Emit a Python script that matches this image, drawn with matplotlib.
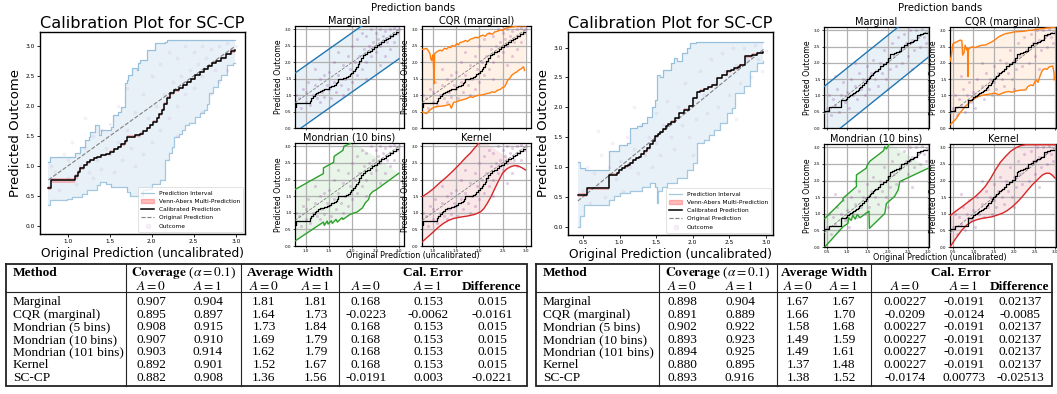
import numpy as np
import matplotlib
matplotlib.use("Agg")
import matplotlib.pyplot as plt
from matplotlib.lines import Line2D
from matplotlib.patches import Patch

plt.rcParams['mathtext.fontset'] = 'stix'

# ----------------------------------------------------------------- DATA (left)
L_calib_x = [0.77,0.80,1.09,1.12,1.15,1.19,1.23,1.27,1.31,1.35,1.40,1.45,1.50,1.55,1.60,1.64,1.68,1.70,1.80,1.86,1.90,1.94,1.98,2.02,2.06,2.09,2.12,2.15,2.18,2.22,2.27,2.32,2.37,2.42,2.47,2.52,2.57,2.62,2.67,2.72,2.77,2.82,2.88,2.94,2.99]
L_calib_y = [0.64,0.76,0.83,0.90,0.96,1.02,1.06,1.10,1.13,1.15,1.18,1.20,1.24,1.28,1.32,1.36,1.41,1.49,1.51,1.54,1.58,1.63,1.68,1.74,1.80,1.86,1.94,2.04,2.14,2.21,2.26,2.30,2.35,2.40,2.45,2.51,2.56,2.61,2.66,2.71,2.75,2.80,2.86,2.91,2.93]
L_va_half = [0.03,0.04,0.04,0.03,0.02,0.02,0.02,0.02,0.02,0.02,0.02,0.02,0.02,0.02,0.02,0.02,0.02,0.02,0.02,0.02,0.02,0.02,0.02,0.02,0.02,0.02,0.02,0.02,0.02,0.02,0.02,0.02,0.02,0.02,0.02,0.02,0.02,0.02,0.02,0.02,0.02,0.02,0.02,0.03,0.03]
L_pi_up_x = [0.77,0.79,1.09,1.15,1.21,1.25,1.27,1.33,1.37,1.40,1.52,1.54,1.60,1.64,1.68,1.70,1.72,1.76,1.82,1.84,1.86,1.94,2.04,2.16,2.18,2.99]
L_pi_up_y = [1.07,1.15,1.21,1.32,1.43,1.49,1.57,1.68,1.51,1.60,1.65,1.85,1.90,1.99,2.38,2.43,2.52,2.63,2.60,2.71,2.77,2.93,3.04,3.07,3.10,3.10]
L_pi_lo_x = [0.77,0.79,0.99,1.05,1.17,1.23,1.35,1.39,1.45,1.52,1.70,1.74,1.90,1.94,2.00,2.10,2.16,2.20,2.24,2.26,2.32,2.36,2.40,2.44,2.52,2.58,2.62,2.66,2.68,2.73,2.79,2.83,2.89,2.97,2.99]
L_pi_lo_y = [0.36,0.43,0.46,0.48,0.54,0.60,0.68,0.74,0.71,0.65,0.57,0.51,0.60,0.62,0.71,0.76,1.10,1.21,1.32,1.49,1.54,1.60,1.68,1.71,1.82,1.88,1.93,2.04,2.21,2.32,2.43,2.52,2.68,2.71,2.71]
L_obs_x = [0.85,0.90,0.95,1.00,1.05,1.10,1.15,1.20,1.25,1.30,1.30,1.35,1.40,1.40,1.45,1.50,1.50,1.55,1.60,1.60,1.65,1.70,1.70,1.75,1.80,1.80,1.85,1.90,1.90,1.95,2.00,2.00,2.05,2.10,2.10,2.15,2.20,2.20,2.25,2.30,2.30,2.35,2.40,2.40,2.45,2.50,2.50,2.55,2.60,2.60,2.65,2.70,2.70,2.75,2.80,2.80,2.85,2.90,2.90,2.95,3.00,2.30,1.20,2.60,0.80,1.00]
L_obs_y = [0.90,0.60,1.20,0.80,1.40,0.70,1.00,1.30,0.90,1.50,0.80,1.10,1.60,0.95,1.30,1.20,1.70,0.90,1.40,2.00,1.10,1.60,2.30,1.30,1.90,1.00,1.50,2.20,1.20,1.80,2.50,1.40,2.00,1.60,2.70,2.20,1.80,2.90,2.40,2.00,2.80,2.50,2.20,3.00,2.60,2.90,2.30,2.70,3.00,2.50,2.80,2.95,2.20,2.60,3.00,2.40,2.80,3.05,2.60,2.90,3.00,1.50,1.80,1.90,1.00,1.10]
L_marg_x = [0.77, 3.00]
L_marg_up = [1.67, 3.90]
L_marg_lo = [-0.13, 2.10]
L_cqr_up_x = [0.77,0.82,0.87,0.90,0.94,0.96,0.98,1.00,1.01,1.03,1.04,1.05,1.10,1.16,1.20,1.25,1.30,1.35,1.38,1.42,1.47,1.52,1.55,1.59,1.65,1.70,1.75,1.81,1.86,1.92,1.97,2.03,2.08,2.13,2.17,2.22,2.28,2.33,2.39,2.45,2.50,2.56,2.61,2.70,2.78,2.85,2.92,3.00]
L_cqr_up_y = [2.39,2.40,2.42,2.36,2.27,2.10,2.05,2.22,2.20,1.35,2.25,2.27,2.33,2.37,2.34,2.42,2.40,2.47,2.44,2.51,2.48,2.57,2.53,2.60,2.62,2.66,2.63,2.70,2.72,2.76,2.74,2.80,2.82,2.79,2.86,2.88,2.85,2.92,2.94,2.98,2.96,3.03,3.05,3.07,3.09,3.10,3.10,3.10]
L_cqr_lo_x = [0.77,0.82,0.87,0.92,0.98,1.02,1.05,1.10,1.16,1.22,1.30,1.36,1.40,1.45,1.50,1.55,1.59,1.65,1.70,1.75,1.81,1.86,1.92,1.97,2.03,2.10,2.17,2.22,2.28,2.33,2.39,2.45,2.50,2.54,2.58,2.61,2.66,2.70,2.75,2.80,2.85,2.90,2.95,2.97]
L_cqr_lo_y = [0.49,0.46,0.44,0.52,0.59,0.62,0.64,0.65,0.66,0.67,0.69,0.72,0.60,0.78,0.79,0.82,0.84,0.86,0.88,0.91,0.95,0.93,0.97,0.99,1.00,1.02,1.05,1.06,1.10,1.08,1.15,1.17,1.23,1.25,1.35,1.45,1.52,1.61,1.66,1.70,1.76,1.80,1.86,1.75]
L_mon_up_x = [0.77,1.38,1.38,1.60,1.61,1.80,1.82,1.95,2.00]
L_mon_up_y = [1.70,2.18,2.35,2.52,2.70,2.88,3.00,3.08,3.15]
L_mon_lo_x = [0.77,1.38,1.40,1.46,1.48,1.55,1.57,1.65,1.68,1.78,1.80,1.95,2.05,2.10,2.22,2.28,2.35,2.38,2.45,2.50,3.00]
L_mon_lo_y = [0.15,0.72,0.62,0.75,0.66,0.76,0.68,0.80,0.72,0.85,0.80,0.95,1.00,1.02,1.15,1.30,1.40,1.55,1.65,1.68,2.19]
L_ker_up_x = [0.77,0.90,1.01,1.15,1.30,1.45,1.59,1.70,1.81,1.90,1.99,2.05]
L_ker_up_y = [1.48,1.60,1.72,1.90,2.08,2.28,2.48,2.65,2.80,2.95,3.10,3.20]
L_ker_lo_x = [0.77,0.90,1.01,1.12,1.23,1.34,1.45,1.60,1.74,1.90,2.03,2.10,2.17,2.25,2.32,2.41,2.50,2.59,2.68,2.76,2.83,2.91,2.99]
L_ker_lo_y = [0.12,0.28,0.42,0.56,0.68,0.77,0.83,0.87,0.90,0.95,1.03,1.13,1.28,1.48,1.69,1.95,2.19,2.32,2.39,2.42,2.41,2.36,2.29]

# ---------------------------------------------------------------- DATA (right)
R_calib_x = [0.43,0.55,0.86,0.97,0.99,1.04,1.08,1.12,1.15,1.19,1.23,1.26,1.30,1.33,1.37,1.42,1.46,1.49,1.53,1.56,1.60,1.63,1.67,1.70,1.76,1.81,1.88,1.95,2.01,2.06,2.10,2.15,2.21,2.27,2.33,2.40,2.47,2.52,2.56,2.62,2.65,2.72,2.81,2.88,2.97]
R_calib_y = [0.53,0.64,0.87,0.90,0.95,0.98,1.01,1.04,1.07,1.12,1.15,1.17,1.22,1.26,1.31,1.38,1.44,1.51,1.55,1.59,1.64,1.68,1.72,1.76,1.82,1.90,1.96,2.02,2.15,2.26,2.28,2.31,2.34,2.37,2.49,2.54,2.60,2.62,2.65,2.68,2.71,2.85,2.88,2.91,2.92]
R_va_half = [0.03,0.02,0.03,0.02,0.02,0.02,0.02,0.02,0.02,0.02,0.02,0.02,0.02,0.02,0.02,0.02,0.02,0.02,0.02,0.02,0.02,0.02,0.02,0.02,0.02,0.02,0.02,0.02,0.02,0.02,0.02,0.02,0.02,0.02,0.02,0.02,0.02,0.02,0.02,0.02,0.02,0.02,0.02,0.02,0.02]
R_pi_up_x = [0.43,0.46,0.53,0.86,0.99,1.10,1.14,1.24,1.31,1.38,1.44,1.49,1.51,1.56,1.60,1.70,1.74,1.78,1.85,1.92,1.97,2.04,2.97]
R_pi_up_y = [1.09,0.98,0.95,1.26,1.37,1.40,1.65,1.68,1.73,1.84,2.01,2.12,2.54,2.51,2.63,2.74,2.82,2.77,2.91,2.99,3.07,3.10,3.10]
R_pi_lo_x = [0.43,0.46,0.51,0.85,0.92,1.01,1.15,1.31,1.42,1.48,1.51,1.53,1.58,1.65,1.79,1.92,2.01,2.06,2.15,2.22,2.29,2.38,2.47,2.54,2.58,2.70,2.79,2.88,2.97]
R_pi_lo_y = [0.00,0.17,0.36,0.45,0.52,0.56,0.59,0.67,0.73,0.67,0.40,0.59,0.67,0.73,0.81,0.95,1.06,1.40,1.45,1.54,1.62,1.73,1.90,1.98,2.23,2.35,2.60,2.74,2.77]
R_obs_x = [0.50,0.55,0.60,0.65,0.70,0.75,0.80,0.85,0.90,0.95,1.00,1.05,1.10,1.15,1.20,1.25,1.30,1.35,1.40,1.45,1.50,1.50,1.55,1.60,1.65,1.70,1.75,1.80,1.85,1.90,1.95,2.00,2.05,2.10,2.15,2.20,2.25,2.30,2.35,2.40,2.45,2.50,2.55,2.60,2.65,2.70,2.75,2.80,2.85,2.90,2.95,3.00,1.20,2.00,2.60,0.70]
R_obs_y = [0.60,1.00,0.40,0.90,0.70,1.20,0.50,1.00,1.40,0.80,1.10,0.60,1.50,1.00,1.30,0.90,1.70,1.20,1.50,1.00,1.90,1.40,1.20,1.70,2.10,1.50,1.30,2.00,1.70,2.40,1.50,2.10,1.80,2.60,2.20,1.90,2.80,2.40,2.00,2.90,2.60,2.20,3.00,2.70,2.40,3.00,2.80,2.50,3.05,2.80,2.60,2.95,2.00,1.20,1.80,1.60]
R_marg_x = [0.43, 3.00]
R_marg_up = [1.27, 3.84]
R_marg_lo = [-0.41, 2.17]
R_cqr_up_x = [0.43,0.46,0.50,0.55,0.62,0.68,0.72,0.74,0.77,0.80,0.84,0.86,0.87,0.88,0.90,0.96,1.05,1.15,1.21,1.30,1.38,1.46,1.52,1.58,1.62,1.70,1.79,1.90,2.00,2.12,2.25,2.35,2.44,2.55,2.69,2.80,2.94,3.00]
R_cqr_up_y = [2.05,2.20,2.58,2.62,2.66,2.70,2.68,2.24,2.30,2.54,2.39,2.45,1.58,2.40,2.44,2.49,2.47,2.52,2.54,2.55,2.60,2.65,2.70,2.76,2.80,2.85,2.90,2.92,2.95,2.96,2.97,3.00,3.00,3.03,3.05,3.07,3.08,3.10]
R_cqr_lo_x = [0.43,0.47,0.51,0.55,0.60,0.64,0.70,0.75,0.80,0.86,0.92,0.96,1.05,1.13,1.21,1.29,1.40,1.52,1.62,1.75,1.85,1.95,2.05,2.15,2.28,2.33,2.40,2.46,2.53,2.58,2.63,2.69,2.75,2.80,2.86,2.94,2.97,2.98]
R_cqr_lo_y = [0.10,0.14,0.20,0.24,0.32,0.41,0.50,0.58,0.66,0.72,0.80,0.86,0.92,0.97,1.00,1.02,1.04,1.07,1.02,1.09,1.12,1.10,1.14,1.16,1.17,1.27,1.32,1.30,1.48,1.40,1.60,1.78,1.82,1.80,1.88,1.90,1.70,1.48]
R_mon_up_x = [0.45,0.78,0.90,0.90,1.23,1.23,1.47,1.50,1.56,1.90,1.93,1.97,2.05]
R_mon_up_y = [0.86,1.26,1.41,1.47,1.82,2.17,2.37,2.47,2.58,2.90,3.02,2.95,3.12]
R_mon_lo_x = [0.45,0.90,1.02,1.04,1.10,1.14,1.20,1.25,1.32,1.47,1.54,1.55,1.93,1.97,2.17,2.26,2.30,3.00]
R_mon_lo_y = [0.00,0.61,0.71,0.88,0.80,0.95,0.84,0.98,0.88,1.02,1.08,0.56,1.01,1.31,1.52,1.72,1.97,2.37]
R_ker_up_x = [0.43,0.55,0.72,0.90,1.05,1.17,1.29,1.42,1.54,1.66,1.79,1.91,2.03,2.15,2.28,2.50,3.00]
R_ker_up_y = [0.94,1.06,1.21,1.38,1.52,1.66,1.82,2.06,2.32,2.55,2.73,2.88,2.98,3.05,3.08,3.08,3.08]
R_ker_lo_x = [0.43,0.55,0.72,0.84,0.96,1.08,1.21,1.46,1.70,1.82,1.95,2.08,2.20,2.32,2.44,2.57,2.69,2.78,2.86,2.93,3.00]
R_ker_lo_y = [0.00,0.22,0.51,0.66,0.76,0.82,0.86,0.91,1.01,1.09,1.21,1.36,1.52,1.70,1.87,2.03,2.17,2.22,2.22,2.16,2.07]

# ---------------------------------------------------------------- TABLE DATA
methods = ["Marginal", "CQR (marginal)", "Mondrian (5 bins)", "Mondrian (10 bins)",
           "Mondrian (101 bins)", "Kernel", "SC-CP"]
L_cov0 = ["0.907", "0.895", "0.908", "0.907", "0.903", "0.892", "0.882"]
L_cov1 = ["0.904", "0.897", "0.915", "0.910", "0.914", "0.901", "0.908"]
L_w0 = ["1.81", "1.64", "1.73", "1.69", "1.62", "1.52", "1.36"]
L_w1 = ["1.81", "1.73", "1.84", "1.79", "1.79", "1.67", "1.56"]
L_ce0 = ["0.168", "-0.0223", "0.168", "0.168", "0.168", "0.168", "-0.0191"]
L_ce1 = ["0.153", "-0.0062", "0.153", "0.153", "0.153", "0.153", "0.003"]
L_diff = ["0.015", "-0.0161", "0.015", "0.015", "0.015", "0.015", "-0.0221"]
R_cov0 = ["0.898", "0.891", "0.902", "0.893", "0.894", "0.880", "0.893"]
R_cov1 = ["0.904", "0.889", "0.922", "0.923", "0.925", "0.895", "0.916"]
R_w0 = ["1.67", "1.66", "1.58", "1.49", "1.49", "1.37", "1.38"]
R_w1 = ["1.67", "1.70", "1.68", "1.59", "1.61", "1.48", "1.52"]
R_ce0 = ["0.00227", "-0.0209", "0.00227", "0.00227", "0.00227", "0.00227", "-0.0174"]
R_ce1 = ["-0.0191", "-0.0124", "-0.0191", "-0.0191", "-0.0191", "-0.0191", "0.00773"]
R_diff = ["0.02137", "-0.0085", "0.02137", "0.02137", "0.02137", "0.02137", "-0.02513"]

# ---------------------------------------------------------------- FIGURE
W, H = 1057, 394
fig = plt.figure(figsize=(W / 100, H / 100), dpi=100)


def px_axes(l, t, r, b):
    return fig.add_axes([l / W, 1 - b / H, (r - l) / W, (b - t) / H])


def stairs(x, y):
    x = np.asarray(x, float)
    y = np.asarray(y, float)
    return np.repeat(x, 2)[1:], np.repeat(y, 2)[:-1]


C_BLUE, C_ORANGE, C_GREEN, C_RED = '#1f77b4', '#ff7f0e', '#2ca02c', '#d62728'
C_DOT = '#9b4fa8'

# table axis (background)
tax = px_axes(0, 0, W, H)
tax.set_xlim(0, W)
tax.set_ylim(H, 0)
tax.axis('off')


def draw_calib(ax, cx, cy, vah, pux, puy, plx, ply, ox, oy, xlim, ylim, xticks):
    ux, uy = stairs(pux, puy)
    lx, ly = stairs(plx, ply)
    ax.fill(np.r_[ux, lx[::-1]], np.r_[uy, ly[::-1]], color=C_BLUE, alpha=0.1, lw=0, zorder=1)
    ax.plot(ux, uy, color=C_BLUE, alpha=0.4, lw=0.9, zorder=2)
    ax.plot(lx, ly, color=C_BLUE, alpha=0.4, lw=0.9, zorder=2)
    cy_a = np.asarray(cy)
    va = np.asarray(vah)
    ax.fill_between(cx, cy_a - va, cy_a + va, step='post', color='red', alpha=0.25, lw=0, zorder=3)
    ax.step(cx, cy, where='post', color='black', lw=1.1, zorder=4)
    ax.plot(cx, cx, '--', color='gray', lw=0.8, zorder=3)
    ax.scatter(ox, oy, s=7, color=C_DOT, alpha=0.09, lw=0, zorder=2)
    ax.set_xlim(*xlim)
    ax.set_ylim(*ylim)
    ax.set_xticks(xticks)
    ax.set_yticks([0.0, 0.5, 1.0, 1.5, 2.0, 2.5, 3.0])
    ax.tick_params(labelsize=4.2, length=2, width=0.6, pad=1.5)
    for s in ax.spines.values():
        s.set_linewidth(1.0)
    ax.set_title("Calibration Plot for SC-CP", fontsize=11.6, pad=3)
    ax.set_xlabel("Original Prediction (uncalibrated)", fontsize=8.8, labelpad=2)
    ax.set_ylabel("Predicted Outcome", fontsize=9.5, labelpad=3)
    handles = [Line2D([], [], color=C_BLUE, alpha=0.4, lw=0.9),
               Patch(color='red', alpha=0.25),
               Line2D([], [], color='black', lw=1.1),
               Line2D([], [], color='gray', ls='--', lw=0.8),
               Line2D([], [], marker='o', ls='', color=C_DOT, alpha=0.08, ms=3)]
    labels = ["Prediction Interval", "Venn-Abers Multi-Prediction", "Calibrated Prediction",
              "Original Prediction", "Outcome"]
    leg = ax.legend(handles, labels, loc='lower right', fontsize=4.2, frameon=True,
                    handlelength=2.2, borderpad=0.6, labelspacing=0.55, borderaxespad=0.3)
    leg.get_frame().set_linewidth(0.5)


def draw_small(ax, cx, cy, ox, oy, ux, uy, lx, ly, color, title, xlim, xticks, bottom):
    ux = np.asarray(ux); uy = np.asarray(uy); lx = np.asarray(lx); ly = np.asarray(ly)
    ax.fill(np.r_[ux, lx[::-1]], np.r_[uy, ly[::-1]], color=color, alpha=0.1, lw=0, zorder=1)
    ax.plot(ux, uy, color=color, lw=1.0, zorder=3)
    ax.plot(lx, ly, color=color, lw=1.0, zorder=3)
    ax.scatter(ox, oy, s=5, color=C_DOT, alpha=0.28, lw=0, zorder=2)
    ax.plot(cx, cx, '--', color='gray', lw=0.6, zorder=3)
    ax.step(cx, cy, where='post', color='black', lw=0.9, zorder=4)
    ax.set_xlim(*xlim)
    ax.set_ylim(0, 3.1)
    ax.set_xticks(xticks)
    ax.set_yticks([0.0, 0.5, 1.0, 1.5, 2.0, 2.5, 3.0])
    ax.grid(True, color='#b0b0b0', lw=0.9)
    ax.tick_params(labelsize=3, length=1.5, width=0.5, pad=1)
    if not bottom:
        ax.tick_params(labelbottom=False)
    for s in ax.spines.values():
        s.set_linewidth(0.9)
    ax.set_title(title, fontsize=7, pad=1.5)
    ax.set_ylabel("Predicted Outcome", fontsize=5.6, labelpad=1.5)


# ------------------------- left
axL = px_axes(40, 32, 245, 234)
draw_calib(axL, L_calib_x, L_calib_y, L_va_half, L_pi_up_x, L_pi_up_y, L_pi_lo_x, L_pi_lo_y,
           L_obs_x, L_obs_y, (0.67, 3.11), (-0.13, 3.23), [1.0, 1.5, 2.0, 2.5, 3.0])

xl_L = (0.77, 3.11)
xt_L = [1.0, 1.5, 2.0, 2.5, 3.0]
a = px_axes(295, 26, 404, 128)
draw_small(a, L_calib_x, L_calib_y, L_obs_x, L_obs_y, L_marg_x, L_marg_up, L_marg_x, L_marg_lo,
           C_BLUE, "Marginal", xl_L, xt_L, False)
a = px_axes(422, 26, 531, 128)
draw_small(a, L_calib_x, L_calib_y, L_obs_x, L_obs_y, L_cqr_up_x, L_cqr_up_y, L_cqr_lo_x, L_cqr_lo_y,
           C_ORANGE, "CQR (marginal)", xl_L, xt_L, False)
a = px_axes(295, 143, 404, 246)
draw_small(a, L_calib_x, L_calib_y, L_obs_x, L_obs_y, L_mon_up_x, L_mon_up_y, L_mon_lo_x, L_mon_lo_y,
           C_GREEN, "Mondrian (10 bins)", xl_L, xt_L, True)
a = px_axes(422, 143, 531, 246)
draw_small(a, L_calib_x, L_calib_y, L_obs_x, L_obs_y, L_ker_up_x, L_ker_up_y, L_ker_lo_x, L_ker_lo_y,
           C_RED, "Kernel", xl_L, xt_L, True)
fig.text(413 / W, 1 - 8 / H, "Prediction bands", ha='center', va='center', fontsize=7.3)
fig.text(413 / W, 1 - 256 / H, "Original Prediction (uncalibrated)", ha='center', va='center', fontsize=5.8)

# ------------------------- right
axR = px_axes(568, 32, 773, 235)
draw_calib(axR, R_calib_x, R_calib_y, R_va_half, R_pi_up_x, R_pi_up_y, R_pi_lo_x, R_pi_lo_y,
           R_obs_x, R_obs_y, (0.295, 3.10), (-0.14, 3.26), [0.5, 1.0, 1.5, 2.0, 2.5, 3.0])

xl_R = (0.43, 3.02)
xt_R = [0.5, 1.0, 1.5, 2.0, 2.5, 3.0]
a = px_axes(824, 27, 929, 128)
draw_small(a, R_calib_x, R_calib_y, R_obs_x, R_obs_y, R_marg_x, R_marg_up, R_marg_x, R_marg_lo,
           C_BLUE, "Marginal", xl_R, xt_R, False)
a = px_axes(950, 27, 1056, 128)
draw_small(a, R_calib_x, R_calib_y, R_obs_x, R_obs_y, R_cqr_up_x, R_cqr_up_y, R_cqr_lo_x, R_cqr_lo_y,
           C_ORANGE, "CQR (marginal)", xl_R, xt_R, False)
a = px_axes(824, 144, 929, 247)
draw_small(a, R_calib_x, R_calib_y, R_obs_x, R_obs_y, R_mon_up_x, R_mon_up_y, R_mon_lo_x, R_mon_lo_y,
           C_GREEN, "Mondrian (10 bins)", xl_R, xt_R, True)
a = px_axes(950, 144, 1056, 247)
draw_small(a, R_calib_x, R_calib_y, R_obs_x, R_obs_y, R_ker_up_x, R_ker_up_y, R_ker_lo_x, R_ker_lo_y,
           C_RED, "Kernel", xl_R, xt_R, True)
fig.text(940 / W, 1 - 8 / H, "Prediction bands", ha='center', va='center', fontsize=7.3)
fig.text(940 / W, 1 - 257 / H, "Original Prediction (uncalibrated)", ha='center', va='center', fontsize=5.8)


# ------------------------- tables
def draw_table(x0, x1, vl, xm, cov_c, w_c, ce_c, hdr_c, cols):
    serif = 'Liberation Serif'
    fs = 9.6
    top, bot, sep = 263.5, 385.5, 292
    b_h1, b_h2 = 276, 289.5
    rows_b = [305 + 12.6 * i for i in range(len(methods))]
    tax.plot([x0, x1, x1, x0, x0], [top, top, bot, bot, top], color='#222222', lw=1.3,
             solid_joinstyle='miter')
    tax.plot([x0, x1], [sep, sep], color='#222222', lw=0.8)
    for v in vl:
        tax.plot([v, v], [top, bot], color='#222222', lw=0.8)
    tax.text(xm, b_h1, "Method", fontsize=fs, fontweight='bold', family=serif, ha='left', va='baseline')
    tax.text(hdr_c[0], b_h1, r"$\mathbf{Coverage}$ ($\alpha = 0.1$)", fontsize=fs, family=serif,
             ha='center', va='baseline')
    tax.text(hdr_c[1], b_h1, "Average Width", fontsize=fs, fontweight='bold', family=serif,
             ha='center', va='baseline')
    tax.text(hdr_c[2], b_h1, "Cal. Error", fontsize=fs, fontweight='bold', family=serif,
             ha='center', va='baseline')
    for xc in (cov_c[0], w_c[0], ce_c[0]):
        tax.text(xc, b_h2, r"$A = 0$", fontsize=fs, ha='center', va='baseline')
    for xc in (cov_c[1], w_c[1], ce_c[1]):
        tax.text(xc, b_h2, r"$A = 1$", fontsize=fs, ha='center', va='baseline')
    tax.text(ce_c[2], b_h2, "Difference", fontsize=fs, fontweight='bold', family=serif,
             ha='center', va='baseline')
    col_x = [cov_c[0], cov_c[1], w_c[0], w_c[1], ce_c[0], ce_c[1], ce_c[2]]
    for i, m in enumerate(methods):
        tax.text(xm, rows_b[i], m, fontsize=fs, family=serif, ha='left', va='baseline')
        for xc, col in zip(col_x, cols):
            tax.text(xc, rows_b[i], col[i], fontsize=fs, family=serif, ha='center', va='baseline')


draw_table(6, 527, [126, 241, 339], 13, (151, 208), (264, 316), (366, 428, 492), (183.5, 290, 433),
           [L_cov0, L_cov1, L_w0, L_w1, L_ce0, L_ce1, L_diff])
draw_table(536, 1052, [659, 777, 871], 543, (682, 740), (798, 844), (905, 964, 1020), (718, 824, 961),
           [R_cov0, R_cov1, R_w0, R_w1, R_ce0, R_ce1, R_diff])

fig.savefig("out.png", dpi=100)
